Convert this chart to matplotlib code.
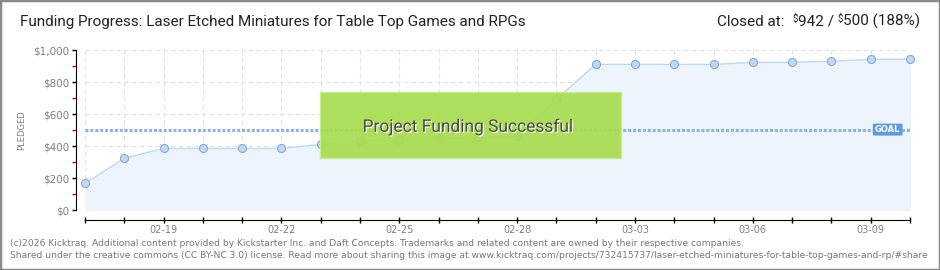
import matplotlib
matplotlib.use('Agg')
import matplotlib.pyplot as plt
import matplotlib.patheffects as pe
from matplotlib.patches import Rectangle, FancyBboxPatch
from matplotlib.ticker import MultipleLocator, FuncFormatter

# Daily pledged totals, 02-17 .. 03-10
days = list(range(22))
pledged = [167, 323, 385, 385, 385, 385, 410, 433, 440, 448, 455, 462,
           692, 910, 910, 910, 910, 923, 923, 930, 942, 942]
date_labels = ['02-17', '02-18', '02-19', '02-20', '02-21', '02-22', '02-23',
               '02-24', '02-25', '02-26', '02-27', '02-28', '03-01', '03-02',
               '03-03', '03-04', '03-05', '03-06', '03-07', '03-08', '03-09',
               '03-10']
label_days = [2, 5, 8, 11, 14, 17, 20]
goal = 500
total = 942

title = 'Funding Progress: Laser Etched Miniatures for Table Top Games and RPGs'
footer1 = ('(c)2026 Kicktraq. Additional content provided by Kickstarter Inc. and Daft Concepts. '
           'Trademarks and related content are owned by their respective companies.')
footer2 = ('Shared under the creative commons (CC BY-NC 3.0) license. Read more about sharing this image at '
           'www.kicktraq.com/projects/732415737/laser-etched-miniatures-for-table-top-games-and-rp/#share')

NARROW = ['Roboto', 'DejaVu Sans']
W, H = 940, 270

fig = plt.figure(figsize=(9.4, 2.7), dpi=100)
fig.patch.set_facecolor('white')
ax = fig.add_axes([85 / W, 1 - 210 / H, 825 / W, 160 / H])

# filled area + line
ax.fill_between(days, pledged, 0, color='#edf4fc', zorder=1)
ax.plot(days, pledged, '-', color='#bcdaf4', linewidth=1, zorder=3)
ax.plot(days, pledged, 'o', markersize=5.8, markerfacecolor='#bcd9f5',
        markeredgecolor='#8fa9c8', markeredgewidth=0.8, zorder=4, clip_on=False)

# goal line
ax.axhline(goal, color='#8fb4e0', linewidth=2.2, linestyle=(0, (1, 0.6)), zorder=2)
ax.add_patch(FancyBboxPatch((0.955, (goal - 35) / 1000), 0.036, 0.075,
                            boxstyle='round,pad=0,rounding_size=0.004',
                            transform=ax.transAxes, facecolor='#5b9ddd',
                            edgecolor='none', zorder=6, clip_on=False))
ax.text(0.973, goal / 1000 + 0.003, 'GOAL', transform=ax.transAxes, color='white',
        fontsize=6, fontweight='bold', ha='center', va='center', zorder=7)

# success banner
ax.add_patch(Rectangle((0.285, 0.325), 0.365, 0.4125, transform=ax.transAxes,
                       facecolor='#a8dd4f', edgecolor='#c6ec8c', linewidth=1,
                       alpha=0.93, zorder=5, clip_on=False))
ax.text(0.464, 0.52, 'Project Funding Successful', transform=ax.transAxes,
        family=NARROW, fontsize=12.5, color='#4a4a4a', ha='center', va='center',
        zorder=8, path_effects=[pe.withSimplePatchShadow(offset=(0.8, -0.8),
                                                         shadow_rgbFace='white', alpha=1)])

# axes styling
ax.set_xlim(0, 21)
ax.set_ylim(0, 1000)
for s in ['top', 'right']:
    ax.spines[s].set_visible(False)
ax.spines['left'].set_position(('outward', 6.5))
ax.spines['bottom'].set_position(('outward', 7.2))
ax.spines['left'].set_color('black')
ax.spines['bottom'].set_color('black')

ax.yaxis.set_major_locator(MultipleLocator(200))
ax.yaxis.set_minor_locator(MultipleLocator(100))
ax.yaxis.set_major_formatter(FuncFormatter(lambda v, p: '${:,.0f}'.format(v)))
ax.tick_params(axis='y', which='major', length=3, width=1, color='black',
               labelsize=7.5, labelcolor='#808080', pad=2)
ax.tick_params(axis='y', which='minor', length=3, width=1, color='#e00000')

ax.set_xticks(days)
ax.set_xticklabels([date_labels[d] if d in label_days else '' for d in days])
ax.tick_params(axis='x', which='major', direction='inout', length=5, width=1,
               labelsize=7, labelcolor='#808080', pad=1)

ax.grid(True, color='#e2e2e2', linestyle=(0, (4, 3)), linewidth=0.8)
ax.set_axisbelow(True)

fig.text(22 / W, 1 - 130 / H, 'PLEDGED', rotation=90, fontsize=6, color='#808080',
         ha='center', va='center')

# title and totals
fig.text(20 / W, 1 - 26 / H, title, family=NARROW, fontsize=11, color='#222222',
         ha='left', va='baseline')

renderer = fig.canvas.get_renderer()
pieces = [('Closed at:  ', 11, 0), ('$', 7, 4), ('{} / '.format(total), 11, 0),
          ('$', 7, 4), ('{} ({:.0f}%)'.format(goal, total / goal * 100), 11, 0)]
x = 920
for txt, size, rise in reversed(pieces):
    t = fig.text(x / W, 1 - (26 - rise) / H, txt, family=NARROW, fontsize=size,
                 color='#222222', ha='right', va='baseline')
    bb = t.get_window_extent(renderer)
    x -= bb.width

# footer (second line runs past the right edge, as in the original image)
fig.text(10 / W, 1 - 246 / H, footer1, fontsize=6.6, color='#777777', ha='left', va='baseline')
fig.text(10 / W, 1 - 258 / H, footer2, fontsize=6.6, color='#777777', ha='left', va='baseline')

# outer frame
fig.add_artist(Rectangle((0, 0), 1, 1, transform=fig.transFigure, fill=False,
                         edgecolor='#8a8a8a', linewidth=2.5))

fig.savefig('out.png', dpi=100)
